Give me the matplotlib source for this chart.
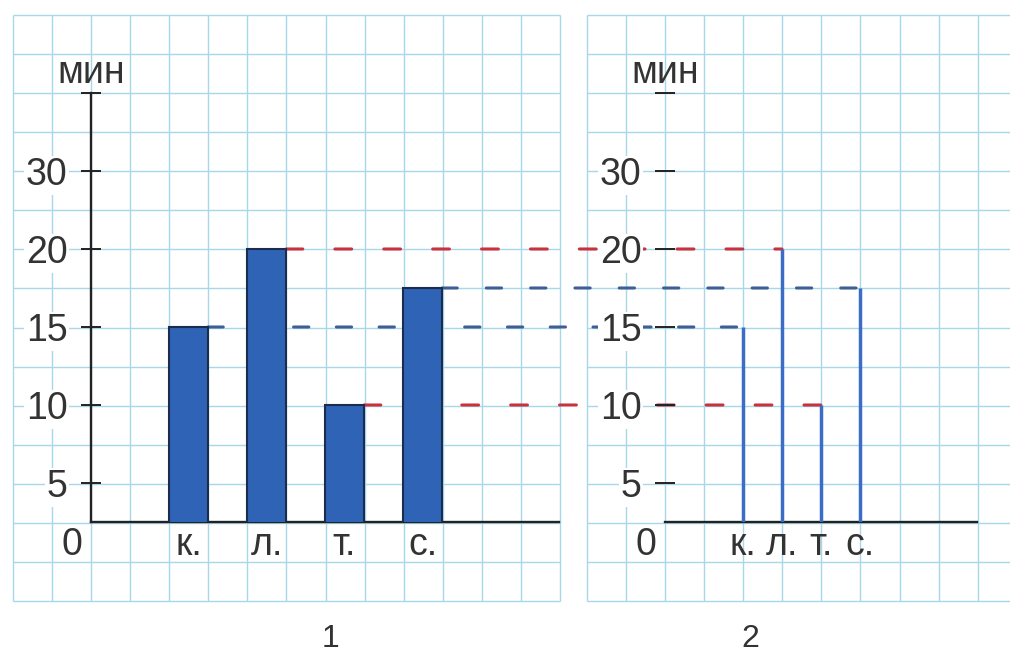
import numpy as np
import matplotlib.pyplot as plt
from matplotlib.patches import ConnectionPatch

plt.rcParams['font.family'] = ['Liberation Sans', 'DejaVu Sans']

# data
labels = ['к.', 'л.', 'т.', 'с.']
minutes = [15, 20, 10, 17.5]
tick_vals = [5, 10, 15, 20, 25, 30]
tick_text = ['5', '10', '15', '20', '30', '']   # the picture labels the 25 mark "30"
bar_pos = [2.5, 4.5, 6.5, 8.5]    # in grid cells from the y axis
stem_pos = [2, 3, 4, 5]
dash_colour = ['#3d5f96', '#c8323f', '#c8323f', '#3d5f96']
dash_style = [(0, (5, 9)), (0, (5.5, 10.5)), (0, (5.5, 10.5)), (0, (5, 9.5))]

W, H = 1010, 654
CELL = 39.07
TXT = '#333333'
AX = '#222222'


def px_axes(fig, x0, y0, x1, y1):
    return fig.add_axes([x0 / W, 1 - y1 / H, (x1 - x0) / W, (y1 - y0) / H])


fig = plt.figure(figsize=(W / 100, H / 100), dpi=100)

# squared paper
bg = fig.add_axes([0, 0, 1, 1])
bg.set_xlim(0, W)
bg.set_ylim(H, 0)
bg.axis('off')
grid_c = '#a6d8ea'
for x0, x1 in [(13, 560), (587, 1010)]:
    xs = np.arange(x0, x1 + 1, CELL)
    ys = np.arange(15, 602, CELL)
    bg.vlines(xs, ys[0], ys[-1], color=grid_c, lw=1.0)
    bg.hlines(ys, x0, x1, color=grid_c, lw=1.0)

ax1 = px_axes(fig, 91, 93, 559, 522)
ax1.set_xlim(0, 12)
ax2 = px_axes(fig, 665, 93, 977, 522)
ax2.set_xlim(0, 8)

for ax, pos in [(ax1, bar_pos), (ax2, stem_pos)]:
    ax.set_facecolor('none')
    ax.set_ylim(2.5, 30)
    for s in ['top', 'right']:
        ax.spines[s].set_visible(False)
    for s in ['left', 'bottom']:
        ax.spines[s].set_color(AX)
        ax.spines[s].set_linewidth(1.7)
    ax.set_yticks(tick_vals, tick_text)
    ax.tick_params(axis='y', direction='inout', length=14, width=1.4, color=AX,
                   pad=10, labelsize=27, labelcolor=TXT)
    for t in ax.get_yticklabels():
        t.set_bbox(dict(fc='white', ec='none', pad=1))
    ax.set_xticks(pos, labels)
    ax.tick_params(axis='x', length=0, pad=24, labelsize=27, labelcolor=TXT)
    for t in ax.get_xticklabels():
        t.set_verticalalignment('baseline')
    ax.annotate('0', xy=(0, 2.5), xytext=(-19, -33), textcoords='offset pixels',
                ha='center', va='baseline', fontsize=27, color=TXT, annotation_clip=False)
    ax.annotate('мин', xy=(0, 30), xytext=(0, 10), textcoords='offset pixels',
                ha='center', va='baseline', fontsize=27, color=TXT, annotation_clip=False)

ax2.spines['left'].set_visible(False)

# chart 1: bars, chart 2: lines
ax1.bar(bar_pos, minutes, width=1, color='#2e63b6', edgecolor='#1c2c4c',
        linewidth=1.5, zorder=3)
ax2.vlines(stem_pos, 0, minutes, color='#3b6dc6', lw=2.5, zorder=3)

# dashed links from each bar to its line
for i in range(len(labels)):
    con = ConnectionPatch(xyA=(bar_pos[i] + 0.5, minutes[i]), coordsA=ax1.transData,
                          xyB=(stem_pos[i], minutes[i]), coordsB=ax2.transData,
                          color=dash_colour[i], lw=2.2, linestyle=dash_style[i], zorder=2)
    ax1.add_artist(con)
    con.set_clip_on(False)

fig.text(330 / W, 1 - 647 / H, '1', ha='center', va='baseline', fontsize=23, color=TXT)
fig.text(750 / W, 1 - 647 / H, '2', ha='center', va='baseline', fontsize=23, color=TXT)

fig.savefig('out.png', dpi=100, facecolor='white')
